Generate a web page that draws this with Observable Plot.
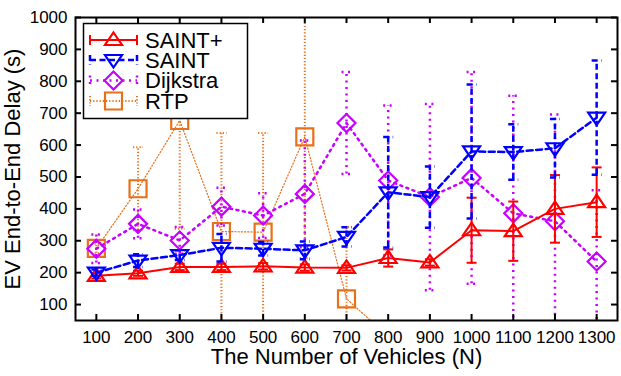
<!DOCTYPE html>
<html><head><meta charset="utf-8">
<script src="https://cdn.jsdelivr.net/npm/d3@7"></script>
<script src="https://cdn.jsdelivr.net/npm/@observablehq/plot@0.6"></script>
<style>
body{margin:0;background:#fff;}
#wrap{position:relative;width:621px;height:376px;font-family:"Liberation Sans",Arial,sans-serif;}
#legend{position:absolute;left:0;top:0;}
</style>
</head><body><div id="wrap"></div>
<script>
// ---- data ----
const vehicles = [100, 200, 300, 400, 500, 600, 700, 800, 900, 1000, 1100, 1200, 1300];
const seriesNames = ["SAINT+", "SAINT", "Dijkstra", "RTP"];
const saintPlus    = [190, 198, 218, 218, 220, 216, 215, 246, 232, 333, 330, 400, 421];
const saintPlusErr = [8, 8, 10, 10, 10, 10, 8, 27, 10, 102, 93, 106, 109];
const saint        = [200, 238, 255, 278, 275, 270, 312, 452, 437, 580, 578, 590, 686];
const saintErr     = [10, 20, 15, 43, 21, 28, 30, 173, 96, 210, 87, 92, 179];
const dijkstra     = [275, 353, 301, 407, 379, 447, 669, 489, 437, 497, 386, 361, 235];
const dijkstraErr  = [45, 45, 42, 59, 70, 167, 160, 235, 292, 332, 369, 335, 223];
const rtp          = [276, 463, 677, 329, 327, 626, 118, 0, 0, 0, 0, 0, 0];
const rtpErr       = [15, 130, 339, 309, 311, 380, 225, 0, 0, 0, 0, 0, 0];
const xTicks = [100, 200, 300, 400, 500, 600, 700, 800, 900, 1000, 1100, 1200, 1300];
const yTicks = [100, 200, 300, 400, 500, 600, 700, 800, 900, 1000];
const xLabel = "The Number of Vehicles (N)";
const yLabel = "EV End-to-End Delay (s)";

// ---- styles ----
const W = 621, H = 376, mL = 75, mR = 4, mT = 17, mB = 56;
const innerW = W - mL - mR, innerH = H - mT - mB;
const poly = pts => ({draw(ctx) { ctx.moveTo(pts[0][0], pts[0][1]); for (const p of pts.slice(1)) ctx.lineTo(p[0], p[1]); ctx.closePath(); }});
const cap = {draw(ctx) { ctx.moveTo(-5, 0); ctx.lineTo(5, 0); }};
const styles = {
  "SAINT+":  {values: saintPlus, errs: saintPlusErr, color: "#ff0000", width: 2, errW: 2, dash: null,
              sym: poly([[0, -7.5], [8.5, 5], [-8.5, 5]])},
  "SAINT":   {values: saint, errs: saintErr, color: "#0000ff", width: 2.5, errW: 2.5, dash: "6 3.5",
              sym: poly([[0, 7.5], [8.5, -5], [-8.5, -5]])},
  "Dijkstra":{values: dijkstra, errs: dijkstraErr, color: "#c800ff", width: 2.5, errW: 2.5, dash: "2 4.5",
              sym: poly([[0, -9], [9, 0], [0, 9], [-9, 0]])},
  "RTP":     {values: rtp, errs: rtpErr, color: "#e8701a", width: 1.2, errW: 2, dash: "1.2 2",
              sym: poly([[-8.5, -8.5], [8.5, -8.5], [8.5, 8.5], [-8.5, 8.5]])}
};

const rows = seriesNames.flatMap(s => vehicles.map((v, i) => ({
  series: s, x: v, y: styles[s].values[i], lo: styles[s].values[i] - styles[s].errs[i], hi: styles[s].values[i] + styles[s].errs[i]
})));

const drawOrder = ["RTP", "Dijkstra", "SAINT+", "SAINT"];
const seriesMarks = drawOrder.flatMap(s => {
  const st = styles[s];
  const data = rows.filter(d => d.series === s);
  return [
    Plot.ruleX(data, {x: "x", y1: "lo", y2: "hi", stroke: st.color, strokeWidth: st.errW, strokeDasharray: st.dash, clip: true}),
    Plot.dot(data, {x: "x", y: "lo", symbol: cap, r: 5, stroke: st.color, strokeWidth: st.errW, strokeDasharray: st.dash, fill: "none", clip: true}),
    Plot.dot(data, {x: "x", y: "hi", symbol: cap, r: 5, stroke: st.color, strokeWidth: st.errW, strokeDasharray: st.dash, fill: "none", clip: true}),
    Plot.line(data, {x: "x", y: "y", stroke: st.color, strokeWidth: st.width, strokeDasharray: st.dash, clip: true}),
    Plot.dot(data, {x: "x", y: "y", symbol: st.sym, r: 8, stroke: st.color, strokeWidth: 2.2, fill: "none", clip: true})
  ];
});

const chart = Plot.plot({
  width: W, height: H,
  marginLeft: mL, marginRight: mR, marginTop: mT, marginBottom: mB,
  style: {fontFamily: "'Liberation Sans', Arial, sans-serif", fontSize: "17px", color: "#000", background: "#fff"},
  x: {type: "linear", domain: [50, 1350]},
  y: {type: "linear", domain: [50, 1000]},
  marks: [
    ...seriesMarks,
    Plot.axisX({ticks: xTicks, tickSize: 0, tickPadding: 10, tickFormat: d => String(d), label: null, fontSize: 17}),
    Plot.axisY({ticks: yTicks, tickSize: 0, tickPadding: 8, tickFormat: d => String(d), label: null, fontSize: 17}),
    Plot.tickY(yTicks, {y: d => d, insetRight: innerW - 6, stroke: "#000", strokeWidth: 2}),
    Plot.tickY(yTicks, {y: d => d, insetLeft: innerW - 6, stroke: "#000", strokeWidth: 2}),
    Plot.tickX(xTicks, {x: d => d, insetTop: innerH - 6, stroke: "#000", strokeWidth: 2}),
    Plot.tickX(xTicks, {x: d => d, insetBottom: innerH - 6, stroke: "#000", strokeWidth: 2}),
    Plot.frame({stroke: "#000", strokeWidth: 2}),
    Plot.text([xLabel], {frameAnchor: "bottom", lineAnchor: "middle", textAnchor: "middle", dy: 36, fontSize: 22, fill: "#000"}),
    Plot.text([yLabel], {frameAnchor: "left", lineAnchor: "middle", textAnchor: "middle", dx: -63, rotate: -90, fontSize: 22, fill: "#000"})
  ]
});
const wrap = document.getElementById("wrap");
wrap.appendChild(chart);

// ---- legend ----
const leg = d3.select(wrap).append("svg").attr("id", "legend").attr("width", W).attr("height", H);
leg.append("rect").attr("x", 83.5).attr("y", 23.5).attr("width", 164).attr("height", 95)
  .attr("fill", "#fff").attr("stroke", "#000").attr("stroke-width", 1.5);
const legY = [40, 60, 80.5, 101];
seriesNames.forEach((s, i) => {
  const st = styles[s];
  const g = leg.append("g").attr("transform", `translate(0,${legY[i]})`);
  g.append("line").attr("x1", 90).attr("x2", 137).attr("y1", 0).attr("y2", 0)
    .attr("stroke", st.color).attr("stroke-width", st.errW).attr("stroke-dasharray", st.dash);
  [90, 137].forEach(x => g.append("line").attr("x1", x).attr("x2", x).attr("y1", -5).attr("y2", 5)
    .attr("stroke", st.color).attr("stroke-width", st.errW).attr("stroke-dasharray", st.dash));
  const path = d3.path(); st.sym.draw(path);
  g.append("path").attr("d", path.toString()).attr("transform", "translate(113.5,0)")
    .attr("fill", "none").attr("stroke", st.color).attr("stroke-width", 2.2);
  g.append("text").attr("x", 145).attr("y", 0).attr("dy", "0.35em").attr("font-size", 22)
    .attr("font-family", "'Liberation Sans', Arial, sans-serif").text(s);
});
</script>
</body></html>
